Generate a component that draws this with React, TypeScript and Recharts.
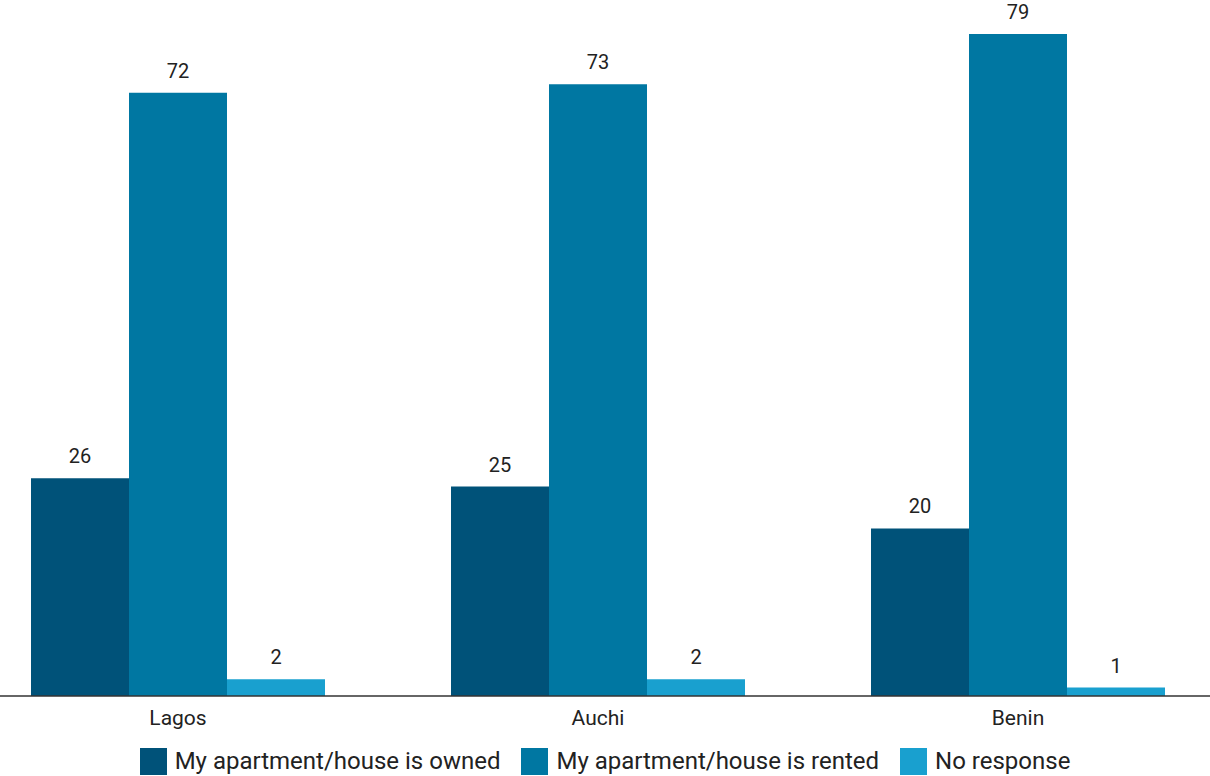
import React from 'react';
import { BarChart, Bar, XAxis, YAxis, Legend, LabelList } from 'recharts';

const cities = ['Lagos', 'Auchi', 'Benin'];
const owned = [26, 25, 20];
const rented = [72, 73, 79];
const noResponse = [2, 2, 1];

const seriesNames = ['My apartment/house is owned', 'My apartment/house is rented', 'No response'];
const colors = ['#005279', '#0077a2', '#19a0cf'];

const data = cities.map((city, i) => ({
  city,
  owned: owned[i],
  rented: rented[i],
  noResponse: noResponse[i],
}));

const LegendBox = () => (
  <div style={{ display: 'flex', justifyContent: 'center', alignItems: 'center', height: 30 }}>
    {seriesNames.map((name, i) => (
      <div key={name} style={{ display: 'flex', alignItems: 'center', marginRight: i < 2 ? 21 : 0 }}>
        <div style={{ width: 27, height: 27, background: colors[i], marginRight: 8 }} />
        <span style={{ fontSize: 24, color: '#222' }}>{name}</span>
      </div>
    ))}
  </div>
);

const App: React.FC = () => {
  return (
    <div
      style={{
        position: 'absolute',
        left: 0,
        top: 0,
        width: 1210,
        height: 776,
        overflow: 'hidden',
        background: '#fff',
        fontFamily: 'Roboto, sans-serif',
      }}
    >
      <div style={{ marginLeft: -32 }}>
        <BarChart
          width={1260}
          height={776}
          data={data}
          margin={{ top: 34, right: 0, bottom: 0, left: 0 }}
          barCategoryGap={63}
          barGap={0}
        >
          <XAxis
            dataKey="city"
            height={50}
            tickLine={false}
            tickSize={8}
            tickMargin={6}
            axisLine={{ stroke: '#333', strokeWidth: 1.5 }}
            tick={{ fill: '#222', fontSize: 21 }}
          />
          <YAxis hide domain={[0, 79]} />
          <Legend
            verticalAlign="bottom"
            content={<LegendBox />}
            wrapperStyle={{ left: 32, width: 1210 }}
          />
          <Bar dataKey="owned" name={seriesNames[0]} fill={colors[0]} isAnimationActive={false}>
            <LabelList dataKey="owned" position="top" offset={15} fill="#222" fontSize={20} />
          </Bar>
          <Bar dataKey="rented" name={seriesNames[1]} fill={colors[1]} isAnimationActive={false}>
            <LabelList dataKey="rented" position="top" offset={15} fill="#222" fontSize={20} />
          </Bar>
          <Bar dataKey="noResponse" name={seriesNames[2]} fill={colors[2]} isAnimationActive={false}>
            <LabelList dataKey="noResponse" position="top" offset={15} fill="#222" fontSize={20} />
          </Bar>
        </BarChart>
      </div>
    </div>
  );
};

export default App;
